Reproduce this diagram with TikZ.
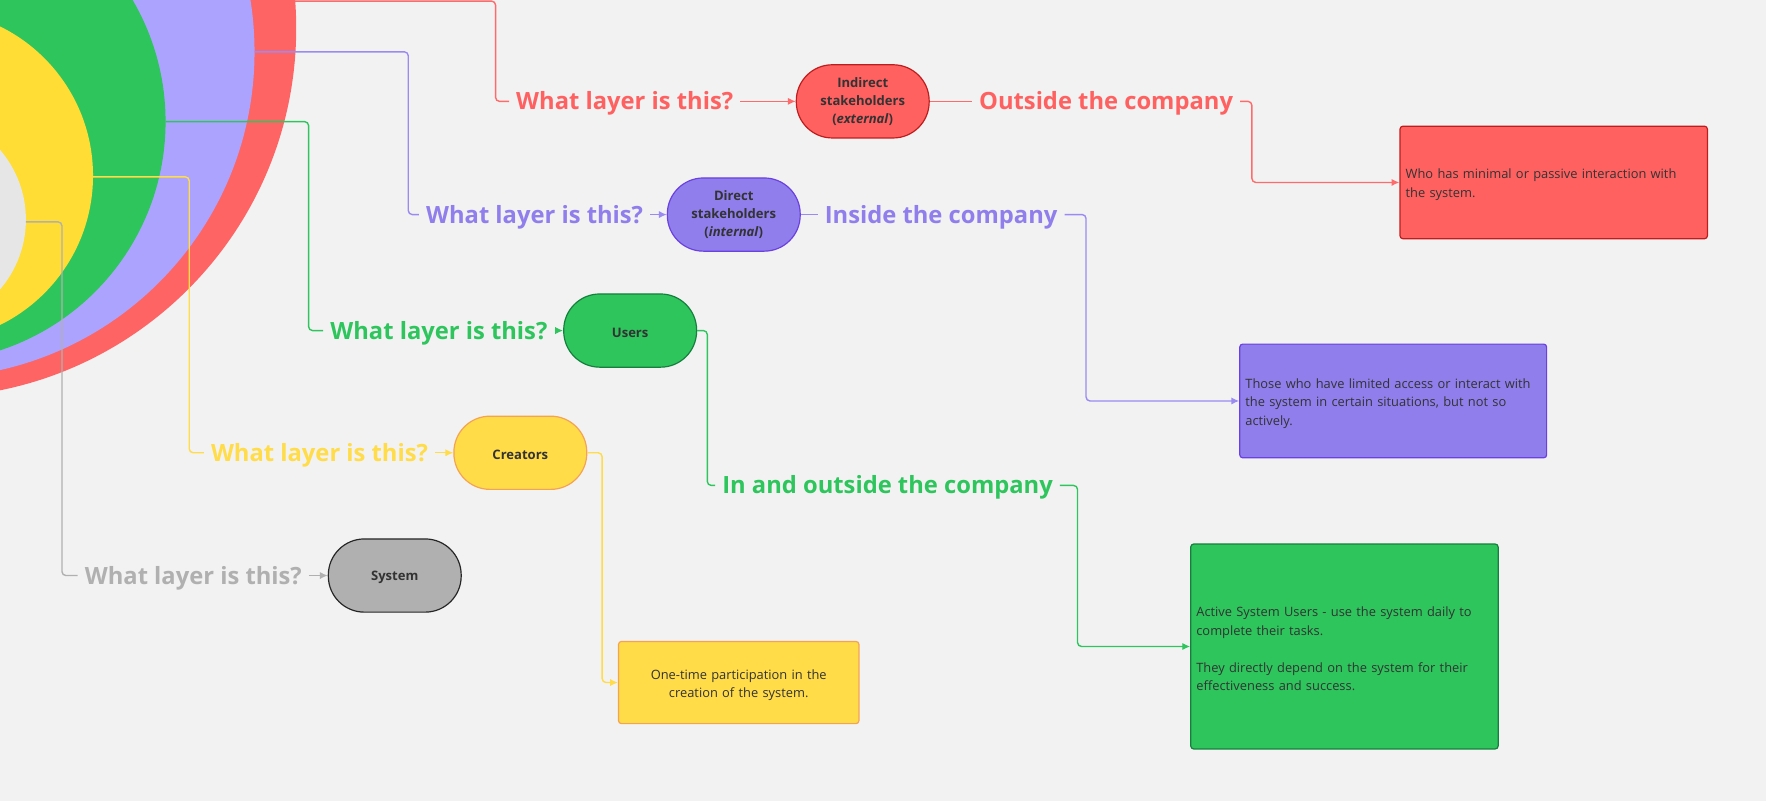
\documentclass[tikz,border=0pt]{standalone}
\usepackage{fontspec}
\setmainfont{Open Sans}
\usepackage{tikz}
\usetikzlibrary{arrows.meta}

\definecolor{paper}{HTML}{F2F2F2}
\definecolor{inkgrey}{HTML}{333333}
\definecolor{cred}{HTML}{FF6161}
\definecolor{credline}{HTML}{FF6B6B}
\definecolor{crededge}{HTML}{BF1D1D}
\definecolor{ringred}{HTML}{FF6464}
\definecolor{cpur}{HTML}{8F7EEB}
\definecolor{cpurline}{HTML}{9A8AF2}
\definecolor{cpuredge}{HTML}{6A40E0}
\definecolor{ringpur}{HTML}{ACA3FF}
\definecolor{cgrn}{HTML}{2DC55C}
\definecolor{cgrnedge}{HTML}{15803D}
\definecolor{cyel}{HTML}{FFDC48}
\definecolor{cyeledge}{HTML}{F5A352}
\definecolor{ringyel}{HTML}{FFDD35}
\definecolor{cgry}{HTML}{B0B0B0}
\definecolor{ringgry}{HTML}{E6E6E6}

\begin{document}
\begin{tikzpicture}[x=0.02cm,y=-0.02cm,
  link/.style={line width=0.7pt,rounded corners=2pt},
  tip/.style={-{Latex[length=1.4mm,width=1.3mm]}},
  layerq/.style={anchor=west,inner xsep=0.12cm,inner ysep=0pt,text height=8.6pt,text depth=0pt,
    font=\fontsize{12}{14}\selectfont\bfseries},
  pill/.style={draw,line width=0.6pt,rounded corners=0.64cm,minimum width=2.36cm,minimum height=1.3cm,
    align=center,text=inkgrey,font=\fontsize{6.6}{9.2}\selectfont\bfseries,
    execute at begin node=\rule{0pt}{6.8pt}},
  notebox/.style={draw,line width=0.6pt,rounded corners=1.5pt,inner xsep=0.1cm,text=inkgrey,
    font=\fontsize{6.5}{9.3}\selectfont,execute at begin node=\rule{0pt}{7.3pt}}]
  \fill[paper] (0,0) rectangle (1568,711);
  \useasboundingbox (0,0) rectangle (1568,711);

  % the rings
  \begin{scope}
    \clip (0,0) rectangle (1568,711);
    \fill[ringred] (-65,25) circle (328);
    \fill[ringpur] (-63.6,46) circle (289.6);
    \fill[cgrn] (-66.7,108) circle (213.7);
    \fill[ringyel] (-65,156) circle (147.6);
    \fill[ringgry] (-72,195) circle (95);
  \end{scope}
  \coordinate (redstart) at (262,1);
  \coordinate (purstart) at (226,46);
  \coordinate (grnstart) at (147,108);
  \coordinate (yelstart) at (82.6,157);
  \coordinate (grystart) at (23,197);

  % questions
  \node[layerq,text=cred] (qred) at (452,90) {What layer is this?};
  \node[layerq,text=cpur] (qpur) at (372,190.5) {What layer is this?};
  \node[layerq,text=cgrn] (qgrn) at (287,293.5) {What layer is this?};
  \node[layerq,text=cyel] (qyel) at (181,402) {What layer is this?};
  \node[layerq,text=cgry] (qgry) at (69,511) {What layer is this?};

  % layers
  \node[pill,fill=cred,draw=crededge] (pred) at (766,90) {Indirect\\stakeholders\\(\textit{external})};
  \node[pill,fill=cpur,draw=cpuredge] (ppur) at (651.5,190.5) {Direct\\stakeholders\\(\textit{internal})};
  \node[pill,fill=cgrn,draw=cgrnedge] (pgrn) at (559.5,293.5) {Users};
  \node[pill,fill=cyel,draw=cyeledge] (pyel) at (462,402) {Creators};
  \node[pill,fill=cgry,draw=black!85] (pgry) at (350.5,511) {System};

  % where
  \node[layerq,text=cred] (aout) at (863,90) {Outside the company};
  \node[layerq,text=cpur] (ains) at (726,190.5) {Inside the company};
  \node[layerq,text=cgrn] (ainout) at (635,431) {In and outside the company};

  % notes
  \node[notebox,fill=cred,draw=crededge,text width=5.26cm,minimum height=2cm,align=left] (nred) at (1379.5,162)
    {Who has minimal or passive interaction with\\the system.};
  \node[notebox,fill=cpur,draw=cpuredge,text width=5.25cm,minimum height=2.02cm,align=left] (npur) at (1237,356)
    {Those who have limited access or interact with\\the system in certain situations, but not so\\actively.};
  \node[notebox,fill=cgrn,draw=cgrnedge,text width=5.26cm,minimum height=3.64cm,align=left] (ngrn) at (1193.7,574)
    {Active System Users - use the system daily to\\complete their tasks.\\[9.3pt]They directly depend on the system for their\\effectiveness and success.};
  \node[notebox,fill=cyel,draw=cyeledge,text width=4.07cm,minimum height=1.46cm,align=center] (nyel) at (655.9,606)
    {One-time participation in the\\creation of the system.};

  \draw[link,credline] (redstart) -| ([xshift=-0.24cm]qred.west) -- (qred.west);
  \draw[link,credline,tip] (qred.east) -- (pred.west);
  \draw[link,credline] (pred.east) -- (aout.west);
  \draw[link,credline,tip] (aout.east) -| ([xshift=-2.62cm]nred.west) -- (nred.west);

  \draw[link,cpurline] (purstart) -| ([xshift=-0.19cm]qpur.west) -- (qpur.west);
  \draw[link,cpurline,tip] (qpur.east) -- (ppur.west);
  \draw[link,cpurline] (ppur.east) -- (ains.west);
  \draw[link,cpurline,tip] (ains.east) -| ([xshift=-2.72cm]npur.west) -- (npur.west);

  \draw[link,cgrn] (grnstart) -| ([xshift=-0.26cm]qgrn.west) -- (qgrn.west);
  \draw[link,cgrn,tip] (qgrn.east) -- (pgrn.west);
  \draw[link,cgrn] (pgrn.east) -| ([xshift=-0.14cm]ainout.west) -- (ainout.west);
  \draw[link,cgrn,tip] (ainout.east) -| ([xshift=-2cm]ngrn.west) -- (ngrn.west);

  \draw[link,cyel] (yelstart) -| ([xshift=-0.26cm]qyel.west) -- (qyel.west);
  \draw[link,cyel,tip] (qyel.east) -- (pyel.west);
  \draw[link,cyel,tip] (pyel.east) -| ([xshift=-0.28cm]nyel.west) -- (nyel.west);

  \draw[link,cgry] (grystart) -| ([xshift=-0.28cm]qgry.west) -- (qgry.west);
  \draw[link,cgry,tip] (qgry.east) -- (pgry.west);
\end{tikzpicture}
\end{document}
